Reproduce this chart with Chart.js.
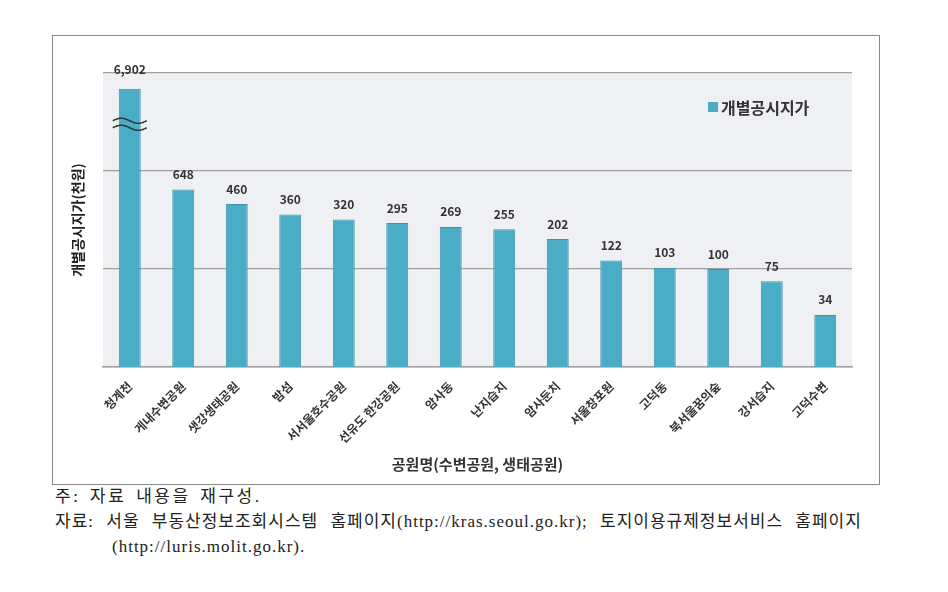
<!DOCTYPE html>
<html>
<head>
<meta charset="utf-8">
<script src="https://cdn.jsdelivr.net/npm/chart.js@4.4.1/dist/chart.umd.min.js"></script>
<style>
  body { margin: 0; background: #fff; width: 948px; height: 592px; position: relative; overflow: hidden; }
  #frame { position: absolute; left: 52px; top: 35px; width: 826px; height: 448px; border: 1px solid #888; }
  .note { position: absolute; font-family: 'Liberation Serif', 'Noto Sans CJK KR', serif; font-size: 17px; line-height: 20px; letter-spacing: 1px; color: #222; white-space: nowrap; }
</style>
</head>
<body>
<div id="frame"><canvas id="chart" width="826" height="448"></canvas></div>
<div class="note" style="left:55px; top:487px; letter-spacing:2.5px; word-spacing:3px;">주: 자료 내용을 재구성.</div>
<div class="note" style="left:55px; top:512px; word-spacing:7px;">자료: 서울 부동산정보조회시스템 홈페이지(http://kras.seoul.go.kr); 토지이용규제정보서비스 홈페이지</div>
<div class="note" style="left:112px; top:537px;">(http://luris.molit.go.kr).</div>
<script>
// 데이터
const parks = ['청계천', '게내수변공원', '샛강생태공원', '밤섬', '서서울호수공원', '선유도 한강공원', '암사동', '난지습지', '암사둔치', '서울창포원', '고덕동', '북서울꿈의숲', '강서습지', '고덕수변'];
const prices = [6902, 648, 460, 360, 320, 295, 269, 255, 202, 122, 103, 100, 75, 34];
const gridValues = [10, 100, 1000, 10000];
const seriesName = '개별공시지가';

const barColor = '#4bacc6';
const font = "'Noto Sans CJK KR', sans-serif";

// 배경, 값 라벨, 범례, 생략 표시
const decor = {
    id: 'decor',
    beforeDraw(chart) {
        const { ctx, chartArea: a } = chart;
        ctx.save();
        ctx.fillStyle = '#eef0f3';
        ctx.fillRect(a.left, a.top, a.right - a.left, a.bottom - a.top);
        ctx.restore();
    },
    afterDatasetsDraw(chart) {
        const { ctx, chartArea: a } = chart;
        const meta = chart.getDatasetMeta(0);
        ctx.save();
        ctx.font = 'bold 12px ' + font;
        ctx.fillStyle = '#333';
        ctx.textAlign = 'center';
        ctx.textBaseline = 'middle';
        meta.data.forEach((bar, i) => {
            const y = Math.min(bar.y - 15, a.top - 4);
            ctx.fillText(prices[i].toLocaleString('en-US'), bar.x, i === 0 ? y : bar.y - 15);
        });

        // 물결 생략 표시 (첫 막대)
        const b0 = meta.data[0];
        const yMid = chart.scales.y.getPixelForValue(3000);
        ctx.strokeStyle = '#333';
        ctx.lineWidth = 1.5;
        [-3.5, 3.5].forEach(dy => {
            ctx.beginPath();
            for (let k = 0; k <= 34; k++) {
                const x = b0.x - 17 + k;
                const y = yMid + dy - 2.5 * Math.sin((k / 34) * Math.PI * 2);
                if (k === 0) ctx.moveTo(x, y); else ctx.lineTo(x, y);
            }
            ctx.stroke();
        });

        // 범례
        const lx = a.right - 144, ly = a.top + 34;
        ctx.fillStyle = barColor;
        ctx.fillRect(lx, ly - 5, 10, 10);
        ctx.font = 'bold 16px ' + font;
        ctx.fillStyle = '#333';
        ctx.textAlign = 'left';
        ctx.textBaseline = 'middle';
        ctx.fillText(seriesName, lx + 13, ly + 1);
        ctx.restore();
    }
};

new Chart(document.getElementById('chart'), {
    type: 'bar',
    data: {
        labels: parks,
        datasets: [{
            label: seriesName,
            data: prices,
            backgroundColor: barColor,
            borderColor: '#3d93ab',
            borderWidth: 1,
            barPercentage: 0.41,
            categoryPercentage: 1
        }]
    },
    options: {
        responsive: false,
        animation: false,
        layout: { padding: { top: 37, right: 27, left: 0, bottom: 0 } },
        plugins: { legend: { display: false }, tooltip: { enabled: false } },
        scales: {
            x: {
                grid: { display: false },
                border: { display: true, color: '#a0a0a0', width: 1.5 },
                ticks: {
                    maxRotation: 45, minRotation: 45, autoSkip: false, padding: 4,
                    color: '#333', font: { family: font, size: 12, weight: 'bold' }
                },
                title: {
                    display: true, text: '공원명(수변공원, 생태공원)', color: '#333',
                    font: { family: font, size: 15, weight: 'bold' }, padding: { top: 0, bottom: 11 }
                },
                afterFit(scale) { scale.height = 117; }
            },
            y: {
                type: 'logarithmic',
                min: 10, max: 10000,
                afterBuildTicks(scale) { scale.ticks = gridValues.map(v => ({ value: v })); },
                ticks: { display: false },
                grid: { color: '#a0a0a0', lineWidth: 1.2, drawTicks: false },
                border: { display: false },
                title: {
                    display: true, text: '개별공시지가(천원)', color: '#222',
                    font: { family: font, size: 14, weight: 'bold' }, padding: { top: 16, bottom: 0 }
                },
                afterFit(scale) { scale.width = 50; }
            }
        }
    },
    plugins: [decor]
});
</script>
</body>
</html>
